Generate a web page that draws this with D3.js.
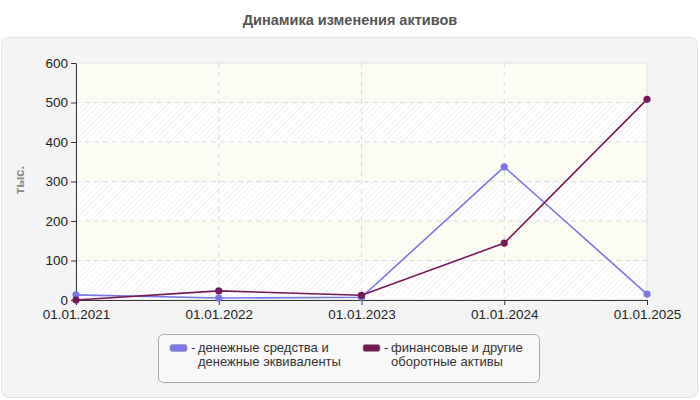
<!DOCTYPE html>
<html>
<head>
<meta charset="utf-8">
<script src="https://cdn.jsdelivr.net/npm/d3@7"></script>
<style>
  body { margin: 0; background: #fff; }
  svg { font-family: "Liberation Sans", Arial, sans-serif; }
</style>
</head>
<body>
<div id="chart"></div>
<script>
// Data
const dates = ["01.01.2021", "01.01.2022", "01.01.2023", "01.01.2024", "01.01.2025"];
const cash = [13, 5, 7, 337, 15];
const financial = [0, 23, 12, 144, 508];
const yTicks = [0, 100, 200, 300, 400, 500, 600];
const seriesNames = [
    ["денежные средства и", "денежные эквиваленты"],
    ["финансовые и другие", "оборотные активы"]
];
const seriesColors = ["#7b77e6", "#741a57"];

const width = 700, height = 400;
const margin = {top: 63, bottom: 100, left: 76, right: 53};

const svg = d3.select("#chart")
    .append("svg")
    .attr("width", width)
    .attr("height", height);

// Hatch pattern for alternating bands
const defs = svg.append("defs");
const pattern = defs.append("pattern")
    .attr("id", "hatch")
    .attr("patternUnits", "userSpaceOnUse")
    .attr("width", 4)
    .attr("height", 4)
    .attr("patternTransform", "rotate(45)");
pattern.append("rect")
    .attr("width", 4).attr("height", 4)
    .attr("fill", "#ffffff");
pattern.append("line")
    .attr("x1", 0).attr("y1", 0)
    .attr("x2", 0).attr("y2", 4)
    .attr("stroke", "#eeeeee")
    .attr("stroke-width", 1.5);

// Title
svg.append("text")
    .attr("x", width / 2)
    .attr("y", 25)
    .attr("text-anchor", "middle")
    .style("font-size", "14.5px")
    .style("font-weight", "bold")
    .style("fill", "#555")
    .text("Динамика изменения активов");

// Panel
svg.append("rect")
    .attr("x", 1.5)
    .attr("y", 37.5)
    .attr("width", 696)
    .attr("height", 360)
    .attr("rx", 7)
    .attr("fill", "#f4f4f4")
    .attr("stroke", "#e2e2e2");

// Scales
const xScale = d3.scalePoint()
    .domain(dates)
    .range([margin.left, width - margin.right]);

const yScale = d3.scaleLinear()
    .domain([0, 600])
    .range([height - margin.bottom, margin.top]);

// Plot background bands
const bands = d3.pairs(yTicks);
svg.selectAll(".band")
    .data(bands)
    .enter().append("rect")
    .attr("x", margin.left)
    .attr("y", d => yScale(d[1]))
    .attr("width", width - margin.right - margin.left)
    .attr("height", d => yScale(d[0]) - yScale(d[1]))
    .attr("fill", (d, i) => i % 2 === 0 ? "url(#hatch)" : "#fcfcf4");

// Plot border top/right
svg.append("rect")
    .attr("x", margin.left)
    .attr("y", margin.top)
    .attr("width", width - margin.right - margin.left)
    .attr("height", height - margin.bottom - margin.top)
    .attr("fill", "none")
    .attr("stroke", "#e0e0e0");

// Grid lines
svg.selectAll(".hgrid")
    .data(yTicks.slice(1, -1))
    .enter().append("line")
    .attr("x1", margin.left)
    .attr("x2", width - margin.right)
    .attr("y1", d => yScale(d))
    .attr("y2", d => yScale(d))
    .attr("stroke", "#dcdcdc")
    .attr("stroke-dasharray", "5,4");

svg.selectAll(".vgrid")
    .data(dates.slice(1, -1))
    .enter().append("line")
    .attr("x1", d => xScale(d))
    .attr("x2", d => xScale(d))
    .attr("y1", margin.top)
    .attr("y2", height - margin.bottom)
    .attr("stroke", "#dcdcdc")
    .attr("stroke-dasharray", "5,4");

// Axes
const yAxis = svg.append("g")
    .attr("transform", `translate(${margin.left},0)`)
    .call(d3.axisLeft(yScale).tickValues(yTicks).tickSize(5).tickSizeOuter(0));

const xAxis = svg.append("g")
    .attr("transform", `translate(0,${height - margin.bottom})`)
    .call(d3.axisBottom(xScale).tickSize(5).tickSizeOuter(0));

[yAxis, xAxis].forEach(ax => {
    ax.select(".domain").attr("stroke", "#333");
    ax.selectAll(".tick line").attr("stroke", "#333");
    ax.selectAll("text")
        .style("font-size", "13.5px")
        .style("font-family", "Liberation Sans, Arial, sans-serif")
        .attr("fill", "#222");
});
yAxis.selectAll("text").attr("x", -8).attr("dy", "0.3em");
xAxis.selectAll("text").attr("y", 9);

// Y-axis label
svg.append("text")
    .attr("transform", "rotate(-90)")
    .attr("x", -180)
    .attr("y", 24)
    .attr("text-anchor", "middle")
    .style("font-size", "13px")
    .style("font-weight", "bold")
    .style("fill", "#888")
    .text("тыс.");

// Lines and points
const line = d3.line()
    .x((d, i) => xScale(dates[i]))
    .y(d => yScale(d));

[cash, financial].forEach((values, s) => {
    svg.append("path")
        .datum(values)
        .attr("d", line)
        .attr("fill", "none")
        .attr("stroke", seriesColors[s])
        .attr("stroke-width", 1.6);

    svg.selectAll(".pt" + s)
        .data(values)
        .enter().append("circle")
        .attr("cx", (d, i) => xScale(dates[i]))
        .attr("cy", d => yScale(d))
        .attr("r", 3.6)
        .attr("fill", seriesColors[s]);
});

// Legend
svg.append("rect")
    .attr("x", 158.5)
    .attr("y", 334.5)
    .attr("width", 381)
    .attr("height", 48)
    .attr("rx", 5)
    .attr("fill", "#f9f9f9")
    .attr("stroke", "#aaa");

const legend = svg.selectAll(".legend")
    .data(seriesNames)
    .enter().append("g")
    .attr("transform", (d, i) => `translate(${170 + i * 193},0)`);

legend.append("rect")
    .attr("x", 0)
    .attr("y", 344.5)
    .attr("width", 17)
    .attr("height", 7)
    .attr("rx", 2)
    .attr("fill", (d, i) => seriesColors[i])
    .attr("stroke", "#999")
    .attr("stroke-width", 0.6);

legend.append("text")
    .attr("x", 21)
    .attr("y", 352)
    .style("font-size", "13px")
    .style("fill", "#333")
    .text("-");

legend.each(function(d) {
    const g = d3.select(this);
    d.forEach((t, k) => {
        g.append("text")
            .attr("x", 28)
            .attr("y", 352 + k * 14)
            .style("font-size", "13px")
            .style("fill", "#333")
            .text(t);
    });
});
</script>
</body>
</html>
